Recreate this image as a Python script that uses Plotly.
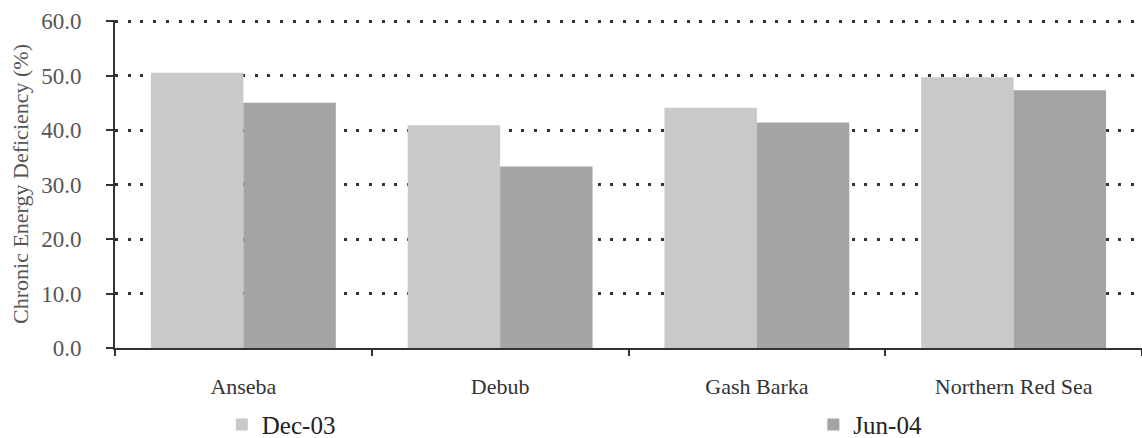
import plotly.graph_objects as go

regions = ["Anseba", "Debub", "Gash Barka", "Northern Red Sea"]
dec_03 = [50.5, 40.9, 44.1, 49.7]
jun_04 = [45.0, 33.3, 41.4, 47.3]
y_ticks = [0, 10, 20, 30, 40, 50, 60]
y_tick_labels = ["0.0", "10.0", "20.0", "30.0", "40.0", "50.0", "60.0"]

FONT = "Liberation Serif"
INK = "#3a3a3a"

fig = go.Figure()
fig.add_trace(go.Bar(name="Dec-03", x=regions, y=dec_03, legend="legend",
                     showlegend=True,
                     marker=dict(color="#c9c9c9", line=dict(width=0))))
fig.add_trace(go.Bar(name="Jun-04", x=regions, y=jun_04, legend="legend2",
                     showlegend=True,
                     marker=dict(color="#a4a4a4", line=dict(width=0))))

legend_style = dict(orientation="h", xanchor="left", yanchor="middle",
                    yref="container", y=0.03,
                    font=dict(size=25, family=FONT, color="#222"),
                    itemwidth=30, bgcolor="rgba(0,0,0,0)")

fig.update_layout(
    width=1142, height=438,
    margin=dict(l=115, r=0, t=20, b=90, autoexpand=False),
    paper_bgcolor="white", plot_bgcolor="white",
    showlegend=True,
    barmode="group", bargap=0.28, bargroupgap=0,
    font=dict(family=FONT, color=INK),
    legend=dict(x=0.104, **legend_style),
    legend2=dict(x=0.680, **legend_style),
    xaxis=dict(range=[-0.5, 3.5], showline=True, linecolor="#333", linewidth=2,
               ticks="outside", tickson="boundaries", ticklen=6, tickwidth=2,
               tickcolor="#333", showgrid=False, ticklabelstandoff=18,
               tickfont=dict(size=22, family=FONT, color="#333")),
    yaxis=dict(range=[0, 60.2], tickvals=y_ticks, ticktext=y_tick_labels,
               showline=True, linecolor="#333", linewidth=2,
               ticks="outside", ticklen=7, tickwidth=2, tickcolor="#333",
               showgrid=True, gridcolor="#333", gridwidth=2.5,
               griddash="3px,9.7px", zeroline=False, ticklabelstandoff=20,
               tickfont=dict(size=23, family=FONT, color="#555"),
               title=dict(text="Chronic Energy Deficiency (%)", standoff=6,
                          font=dict(size=22, family=FONT, color="#555"))),
)

fig.write_html("out.html")
